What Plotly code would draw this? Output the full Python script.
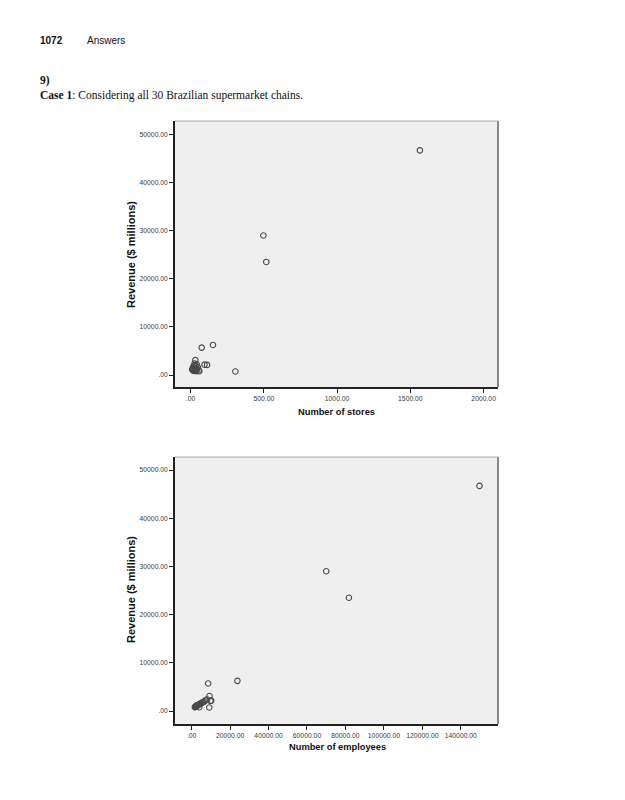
import plotly.graph_objects as go

# ---- data: 30 Brazilian supermarket chains ----
stores = [1565, 497, 517, 153, 76, 33, 95, 113, 306,
          28, 42, 25, 35, 18, 50, 22, 30, 15, 45, 26, 12, 38, 20, 55, 16, 32, 24, 40, 14, 60]
employees = [149700, 70000, 81800, 23800, 8600, 9300, 10200, 9800, 9200,
             8000, 7200, 6500, 5800, 5200, 4900, 4500, 4200, 3900, 3600, 3300, 3100, 2900, 2700, 2500,
             2300, 2100, 1900, 1700, 2600, 4000]
revenue = [46700, 29000, 23500, 6250, 5700, 3100, 2150, 2100, 720,
           2400, 2200, 1950, 1800, 1700, 1600, 1500, 1450, 1350, 1300, 1250, 1150, 1100, 1050, 1000,
           950, 900, 850, 800, 1200, 780]

y_ticks = [0, 10000, 20000, 30000, 40000, 50000]
x1_ticks = [0, 500, 1000, 1500, 2000]
x2_ticks = [0, 20000, 40000, 60000, 80000, 100000, 120000, 140000]


def fmt(v):
    return ".00" if v == 0 else f"{v}.00"


OFF = 8  # default page body margin
W, H = 625 - OFF, 800 - OFF


def px(x):
    return (x - OFF) / W


def py(y):
    return 1 - (y - OFF) / H


fig = go.Figure()

marker = dict(symbol="circle-open", size=5.5, color="#4a4a4a", line=dict(width=1.1, color="#4a4a4a"))
fig.add_trace(go.Scatter(x=stores, y=revenue, mode="markers", marker=marker,
                         xaxis="x", yaxis="y", showlegend=False))
fig.add_trace(go.Scatter(x=employees, y=revenue, mode="markers", marker=marker,
                         xaxis="x2", yaxis="y2", showlegend=False))

tickfont = dict(family="Liberation Sans, Arial, sans-serif", size=6.8, color="#3a3a3a")
common_axis = dict(showgrid=False, zeroline=False, showline=True, linecolor="#222", linewidth=1.5,
                   ticks="outside", ticklen=4, tickcolor="#222", tickwidth=1, tickfont=tickfont)

xd = [px(175), px(498)]
fig.update_layout(
    width=W, height=H, margin=dict(l=0, r=0, t=0, b=0),
    paper_bgcolor="white", plot_bgcolor="#efefef",
    xaxis=dict(domain=xd, range=[-106, 2098], tickvals=x1_ticks,
               ticktext=[fmt(v) for v in x1_ticks], anchor="y", **common_axis),
    yaxis=dict(domain=[py(387.3), py(121)], range=[-2557, 52800], tickvals=y_ticks,
               ticktext=[fmt(v) for v in y_ticks], anchor="x", **common_axis),
    xaxis2=dict(domain=xd, range=[-8630, 159330], tickvals=x2_ticks,
                ticktext=[fmt(v) for v in x2_ticks], anchor="y2", **common_axis),
    yaxis2=dict(domain=[py(724.3), py(457)], range=[-2760, 52700], tickvals=y_ticks,
                ticktext=[fmt(v) for v in y_ticks], anchor="x2", **common_axis),
)

# plot frames (top/right gray borders)
for xr, yr in (("x domain", "y domain"), ("x2 domain", "y2 domain")):
    fig.add_shape(type="line", xref=xr, yref=yr, x0=0, x1=1, y0=1, y1=1,
                  line=dict(color="#aaa", width=1.2))
    fig.add_shape(type="line", xref=xr, yref=yr, x0=1, x1=1, y0=0, y1=1,
                  line=dict(color="#888", width=2))

serif = "Liberation Serif, Times New Roman, serif"
sans = "Liberation Sans, Arial, sans-serif"


def ann(text, x, y, size, family, **kw):
    fig.add_annotation(text=text, x=px(x), y=py(y), xref="paper", yref="paper",
                       showarrow=False, font=dict(size=size, family=family, color="#111"), **kw)


ann("<b>1072</b>", 38, 40, 10, sans, xanchor="left", yanchor="middle")
ann("Answers", 85, 40, 10, sans, xanchor="left", yanchor="middle")
ann("<b>9)</b>", 38, 81, 11.5, serif, xanchor="left", yanchor="middle")
ann("<b>Case 1</b>: Considering all 30 Brazilian supermarket chains.", 38, 95, 11.5, serif,
    xanchor="left", yanchor="middle")

ann("<b>Revenue ($ millions)</b>", 131, 255, 11, sans, textangle=-90, xanchor="center", yanchor="middle")
ann("<b>Number of stores</b>", 336, 412, 9.3, sans, xanchor="center", yanchor="middle")
ann("<b>Revenue ($ millions)</b>", 131, 590, 11, sans, textangle=-90, xanchor="center", yanchor="middle")
ann("<b>Number of employees</b>", 337, 747, 9.3, sans, xanchor="center", yanchor="middle")

fig.write_html("out.html")
